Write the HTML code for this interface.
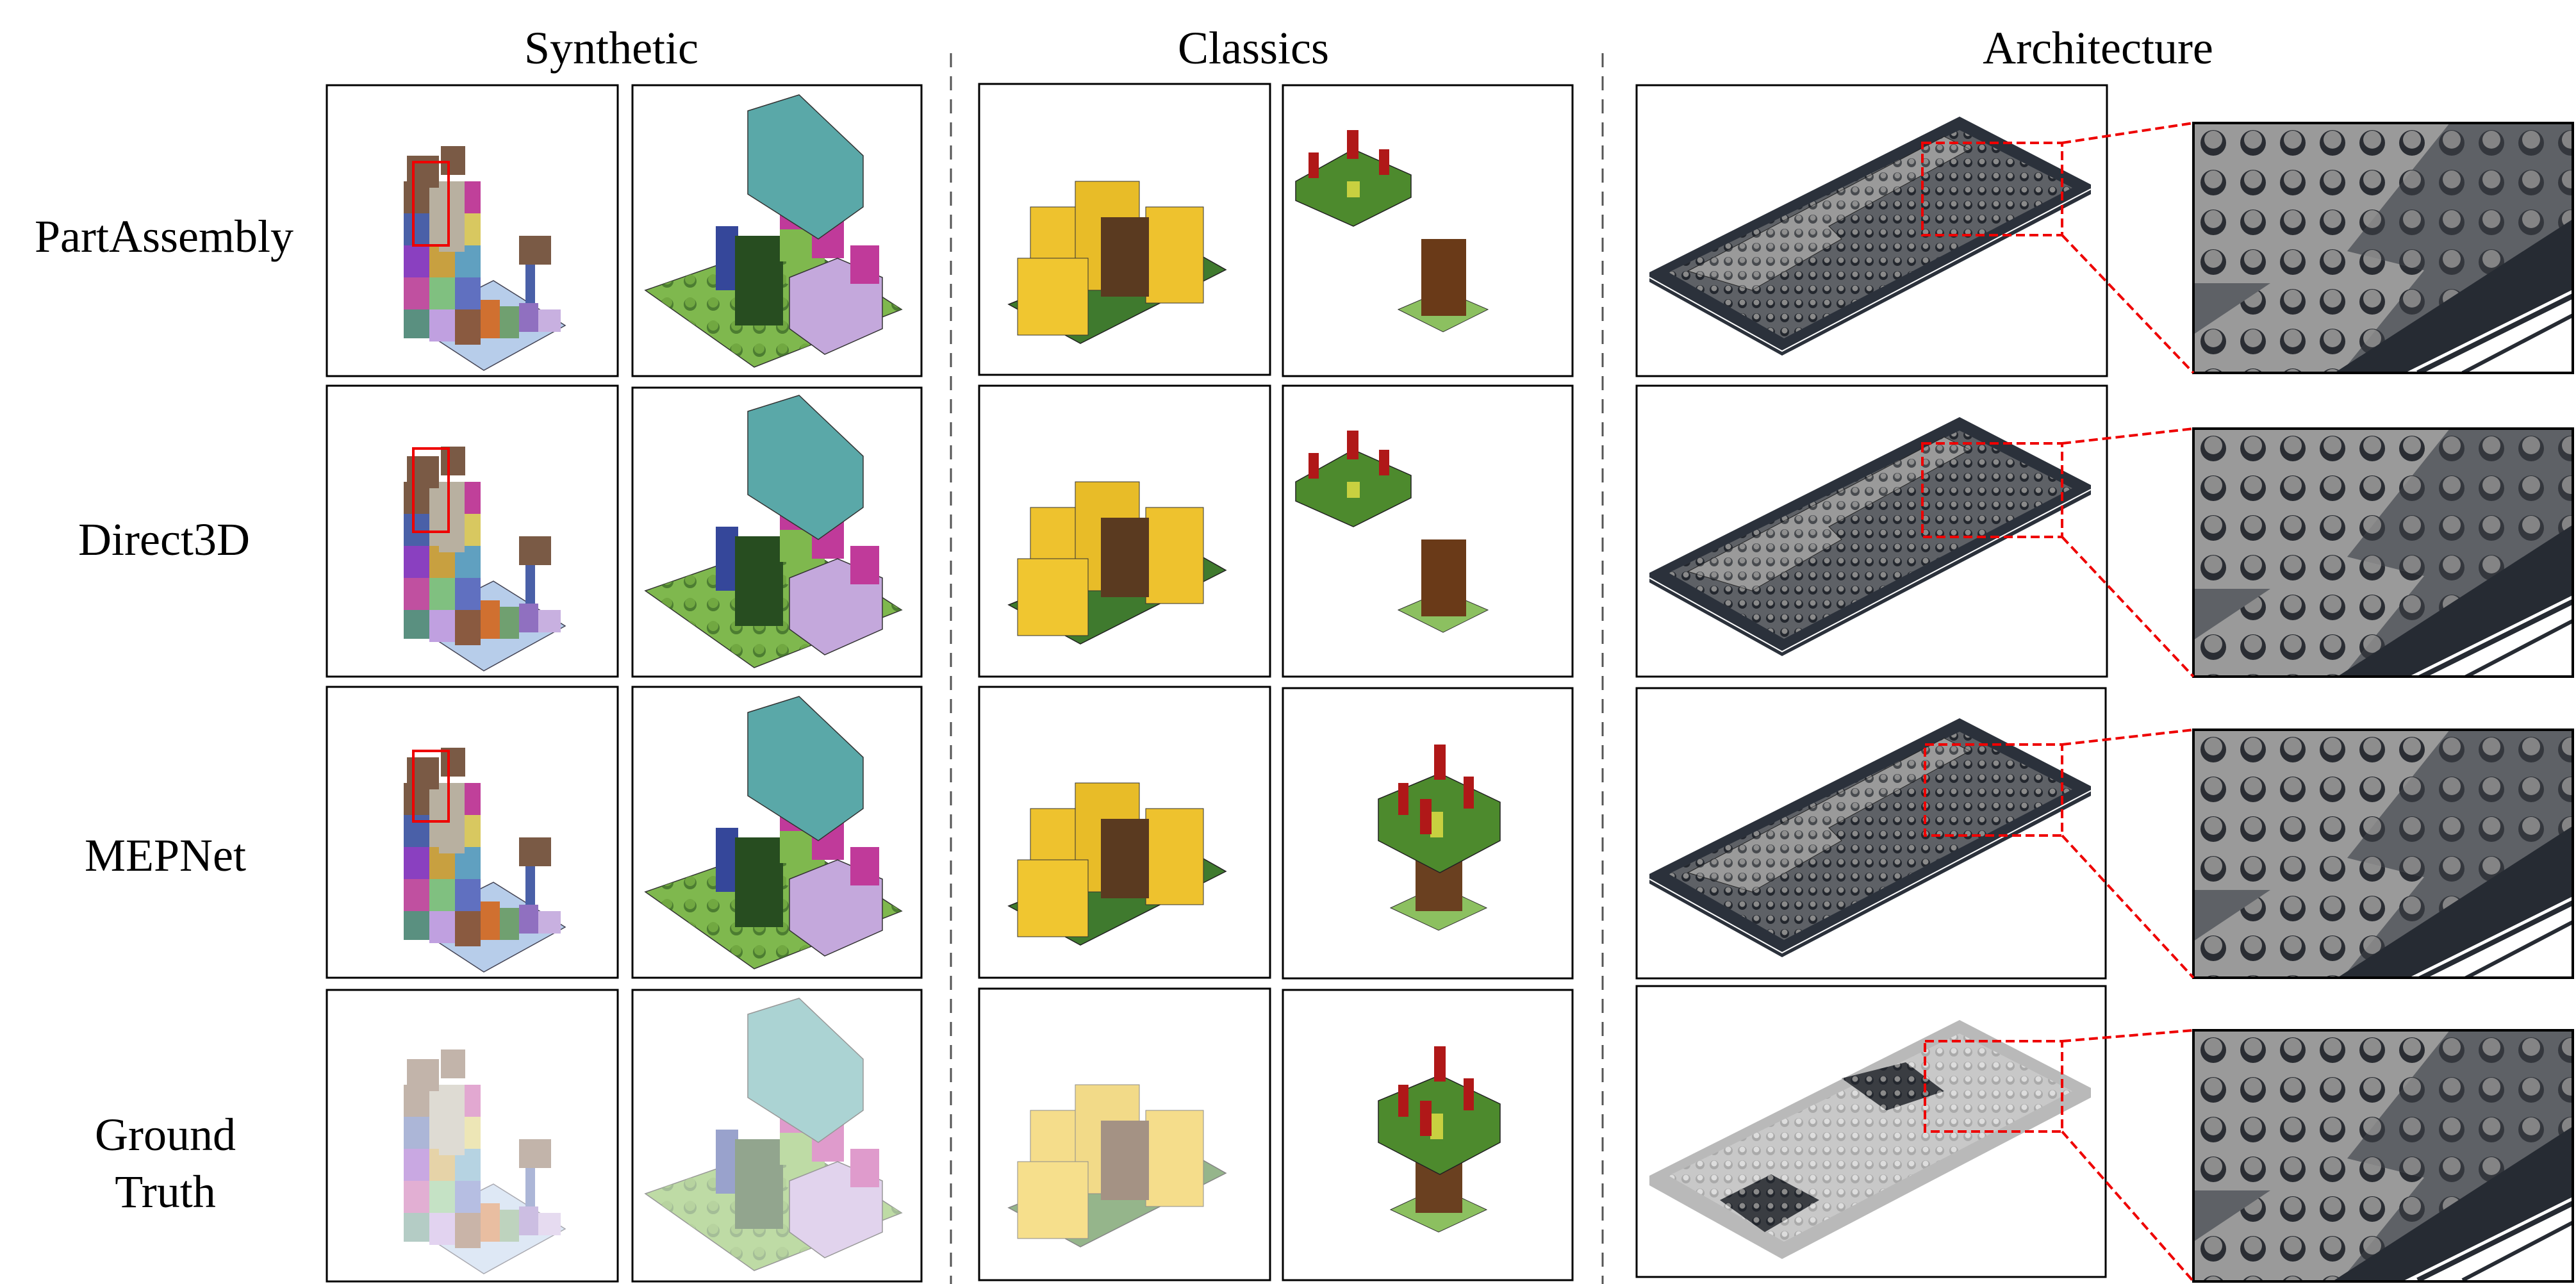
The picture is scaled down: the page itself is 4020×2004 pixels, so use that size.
<!DOCTYPE html>
<html><head><meta charset="utf-8"><style>
html,body{margin:0;padding:0;background:#fff;}
svg{display:block;}
text{font-family:"Liberation Serif",serif;font-size:72px;fill:#000;}
</style></head><body>
<svg width="4020" height="2004" viewBox="0 0 4020 2004" xmlns="http://www.w3.org/2000/svg">
<defs>
<pattern id="stud" width="22" height="22" patternUnits="userSpaceOnUse"><circle cx="11" cy="11" r="7" fill="#23272e"/><circle cx="11" cy="9" r="4.5" fill="#8a8a8a"/></pattern>
<pattern id="studL" width="22" height="22" patternUnits="userSpaceOnUse"><circle cx="11" cy="11" r="7" fill="#aaa"/><circle cx="11" cy="9" r="4.5" fill="#ddd"/></pattern>
<pattern id="bigstud" width="62" height="62" patternUnits="userSpaceOnUse"><circle cx="31" cy="31" r="20" fill="#2a2d33"/><circle cx="31" cy="26" r="14" fill="#8d8d8d"/></pattern>
<pattern id="gstud" width="36" height="36" patternUnits="userSpaceOnUse"><circle cx="18" cy="18" r="10" fill="#3f6e2a"/><circle cx="18" cy="15" r="8" fill="#6da43e"/></pattern>

<g id="tower">
<polygon points="130,370 245,445 372,375 260,305" fill="#b7cdea" stroke="#445" stroke-width="1.5"/>
<rect x="120" y="150" width="40" height="50" fill="#7a5a45"/><rect x="160" y="150" width="40" height="50" fill="#b8b0a0"/><rect x="200" y="150" width="40" height="50" fill="#c0409a"/>
<rect x="120" y="200" width="40" height="50" fill="#4a60a8"/><rect x="160" y="200" width="40" height="50" fill="#b8b0a0"/><rect x="200" y="200" width="40" height="50" fill="#d8c860"/>
<rect x="120" y="250" width="40" height="50" fill="#8a40c0"/><rect x="160" y="250" width="40" height="50" fill="#c8a040"/><rect x="200" y="250" width="40" height="50" fill="#60a0c0"/>
<rect x="120" y="300" width="40" height="50" fill="#c050a0"/><rect x="160" y="300" width="40" height="50" fill="#80c080"/><rect x="200" y="300" width="40" height="50" fill="#6070c0"/>
<rect x="120" y="350" width="40" height="45" fill="#5a9080"/><rect x="160" y="350" width="40" height="50" fill="#c0a0e0"/><rect x="200" y="350" width="40" height="55" fill="#8a5a40"/>
<rect x="240" y="335" width="30" height="60" fill="#d07030"/><rect x="270" y="345" width="30" height="50" fill="#70a070"/><rect x="300" y="340" width="30" height="45" fill="#9070c0"/><rect x="330" y="350" width="35" height="35" fill="#c8b0e0"/>
<rect x="125" y="110" width="50" height="50" fill="#7a5a45"/><rect x="178" y="95" width="38" height="45" fill="#7a5a45"/>
<rect x="175" y="150" width="40" height="110" fill="#b8b0a0"/>
<rect x="300" y="235" width="50" height="45" fill="#7a5a45"/><rect x="310" y="280" width="15" height="60" fill="#4a60a8"/>
</g>
<g id="syn2">
<polygon points="20,320 190,440 420,350 250,240" fill="#7fb84e" stroke="#333" stroke-width="1.5"/>
<polygon points="20,320 190,440 420,350 250,240" fill="url(#gstud)" opacity="0.8"/>
<rect x="130" y="220" width="35" height="100" fill="#35479a"/><rect x="160" y="235" width="75" height="140" fill="#274d20"/>
<rect x="230" y="165" width="50" height="60" fill="#c03a9a"/><rect x="230" y="225" width="50" height="50" fill="#7fb84e"/><rect x="280" y="200" width="50" height="70" fill="#c03a9a"/><rect x="240" y="270" width="60" height="40" fill="#7fb84e"/>
<polygon points="180,40 260,15 360,110 360,190 290,240 180,170" fill="#5aa8a8" stroke="#333" stroke-width="1.5"/>
<polygon points="245,300 320,270 390,300 390,380 300,420 245,380" fill="#c4a8dc" stroke="#333" stroke-width="1.5"/>
<rect x="340" y="250" width="45" height="60" fill="#c03a9a"/>
</g>
<g id="castle">
<polygon points="46,342 158,403 385,288 300,240" fill="#3f7a2e" stroke="#222" stroke-width="1.5"/>
<rect x="80" y="190" width="90" height="180" fill="#eec22e" stroke="#333"/><rect x="150" y="150" width="100" height="170" fill="#e8bc28" stroke="#333"/><rect x="260" y="190" width="90" height="150" fill="#eec22e" stroke="#333"/><rect x="60" y="270" width="110" height="120" fill="#f0c630" stroke="#333"/>
<rect x="190" y="206" width="75" height="124" fill="#5a3a20"/>
</g>
<g id="tree">
<polygon points="168,345 243,310 318,345 243,380" fill="#8cc060" stroke="#333"/>
<rect x="207" y="260" width="73" height="90" fill="#6a4020"/>
<polygon points="149,175 245,135 339,180 339,240 245,290 149,240" fill="#4d8a2d" stroke="#222" stroke-width="1.5"/>
<rect x="230" y="195" width="20" height="40" fill="#c8d040"/>
<rect x="236" y="90" width="18" height="55" fill="#b01818"/><rect x="180" y="150" width="16" height="50" fill="#b01818"/><rect x="282" y="140" width="16" height="50" fill="#b01818"/><rect x="214" y="175" width="18" height="55" fill="#b01818"/>
</g>
<g id="split">
<polygon points="20,150 110,100 200,140 200,175 110,220 20,180" fill="#4d8a2d" stroke="#222" stroke-width="1.5"/>
<rect x="40" y="105" width="16" height="40" fill="#b01818"/><rect x="100" y="70" width="18" height="45" fill="#b01818"/><rect x="150" y="100" width="16" height="40" fill="#b01818"/><rect x="100" y="150" width="20" height="25" fill="#c8d040"/>
<polygon points="180,350 250,320 320,350 250,385" fill="#8cc060" stroke="#333"/>
<rect x="216" y="240" width="70" height="120" fill="#6a3a18"/>
</g>
<g id="arch">
<polygon points="504,49 709,155 709,170 227,422 20,307 20,292" fill="#2b313b"/>
<polygon points="504,70 680,160 230,395 50,292" fill="#5e6166"/>
<polygon points="504,70 680,160 230,395 50,292" fill="url(#stud)"/>
<polygon points="80,290 480,80 520,100 300,220 320,240 180,320" fill="#9a9a9a" stroke="#222"/>
<polygon points="80,290 480,80 520,100 300,220 320,240 180,320" fill="url(#stud)" opacity="0.7"/>
<polyline points="20,300 227,415 709,162" fill="none" stroke="#fff" stroke-width="2"/>
</g>
<g id="archgt">
<polygon points="504,49 709,155 709,170 227,422 20,307 20,292" fill="#a8a8a8" opacity="0.8"/>
<polygon points="504,70 680,160 230,395 50,292" fill="#c8c8c8"/>
<polygon points="504,70 680,160 230,395 50,292" fill="url(#studL)"/>
<polygon points="320,140 420,115 480,160 390,190" fill="#3a3d42"/><polygon points="320,140 420,115 480,160 390,190" fill="url(#stud)"/>
<polygon points="130,330 210,290 285,330 200,380" fill="#3a3d42"/><polygon points="130,330 210,290 285,330 200,380" fill="url(#stud)"/>
</g>
<g id="zoomc">
<rect x="0" y="0" width="592" height="390" fill="#5e6166"/>
<rect x="0" y="0" width="592" height="390" fill="url(#bigstud)" opacity="0.8"/>
<polygon points="0,0 400,0 240,200 360,230 230,390 0,390" fill="#9a9a9a"/>
<polygon points="0,0 400,0 240,200 360,230 230,390 0,390" fill="url(#bigstud)"/>
<polygon points="0,250 120,250 0,330" fill="#5e6166"/>
<polygon points="592,150 592,260 330,390 220,390" fill="#262b33"/>
<polygon points="592,260 592,390 330,390" fill="#fff"/>
<line x1="592" y1="270" x2="350" y2="390" stroke="#262b33" stroke-width="8"/>
<line x1="592" y1="300" x2="420" y2="390" stroke="#262b33" stroke-width="6"/>
</g>
</defs>

<text x="954" y="99" text-anchor="middle">Synthetic</text>
<text x="1956" y="99" text-anchor="middle">Classics</text>
<text x="3274" y="99" text-anchor="middle">Architecture</text>
<text x="256" y="393" text-anchor="middle">PartAssembly</text>
<text x="256" y="866" text-anchor="middle">Direct3D</text>
<text x="258" y="1359" text-anchor="middle">MEPNet</text>
<text x="258" y="1795" text-anchor="middle">Ground</text>
<text x="258" y="1884" text-anchor="middle">Truth</text>

<line x1="1484" y1="83" x2="1484" y2="2004" stroke="#555" stroke-width="3" stroke-dasharray="22,14"/>
<line x1="2501" y1="83" x2="2501" y2="2004" stroke="#555" stroke-width="3" stroke-dasharray="22,14"/>

<!-- content -->
<use href="#tower" transform="translate(510,133)"/><use href="#tower" transform="translate(510,602)"/><use href="#tower" transform="translate(510,1072)"/>
<g opacity="0.45"><use href="#tower" transform="translate(510,1543)"/></g>
<rect x="645" y="253" width="55" height="130" fill="none" stroke="#e00" stroke-width="4"/>
<rect x="645" y="700" width="55" height="130" fill="none" stroke="#e00" stroke-width="4"/>
<rect x="645" y="1172" width="55" height="110" fill="none" stroke="#e00" stroke-width="4"/>
<use href="#syn2" transform="translate(987,133)"/><use href="#syn2" transform="translate(987,602)"/><use href="#syn2" transform="translate(987,1072)"/>
<g opacity="0.5"><use href="#syn2" transform="translate(987,1543)"/></g>
<use href="#castle" transform="translate(1528,133)"/><use href="#castle" transform="translate(1528,602)"/><use href="#castle" transform="translate(1528,1072)"/>
<g opacity="0.55"><use href="#castle" transform="translate(1528,1543)"/></g>
<use href="#split" transform="translate(2002,133)"/><use href="#split" transform="translate(2002,602)"/>
<use href="#tree" transform="translate(2002,1072)"/><use href="#tree" transform="translate(2002,1543)"/>
<use href="#arch" transform="translate(2554,133)"/><use href="#arch" transform="translate(2554,602)"/><use href="#arch" transform="translate(2554,1072)"/>
<use href="#archgt" transform="translate(2554,1543)"/>
<svg x="3423" y="192" width="592" height="390" overflow="hidden"><use href="#zoomc"/></svg>
<svg x="3423" y="669" width="592" height="387" overflow="hidden"><use href="#zoomc"/></svg>
<svg x="3423" y="1139" width="592" height="387" overflow="hidden"><use href="#zoomc"/></svg>
<svg x="3423" y="1608" width="592" height="392" overflow="hidden"><use href="#zoomc"/></svg>

<!-- frames -->
<g fill="none" stroke="#000" stroke-width="3">
<rect x="510" y="133" width="454" height="454"/><rect x="987" y="133" width="451" height="454"/><rect x="1528" y="131" width="454" height="454"/><rect x="2002" y="133" width="452" height="454"/><rect x="2554" y="133" width="734" height="454"/>
<rect x="510" y="602" width="454" height="454"/><rect x="987" y="605" width="451" height="451"/><rect x="1528" y="602" width="454" height="454"/><rect x="2002" y="602" width="452" height="454"/><rect x="2554" y="602" width="734" height="454"/>
<rect x="510" y="1072" width="454" height="454"/><rect x="987" y="1072" width="451" height="454"/><rect x="1528" y="1072" width="454" height="454"/><rect x="2002" y="1074" width="452" height="453"/><rect x="2554" y="1074" width="732" height="453"/>
<rect x="510" y="1545" width="454" height="455"/><rect x="987" y="1545" width="451" height="455"/><rect x="1528" y="1543" width="454" height="455"/><rect x="2002" y="1545" width="452" height="453"/><rect x="2554" y="1539" width="732" height="454"/>
<rect x="3423" y="192" width="592" height="390" stroke-width="4"/><rect x="3423" y="669" width="592" height="387" stroke-width="4"/><rect x="3423" y="1139" width="592" height="387" stroke-width="4"/><rect x="3423" y="1608" width="592" height="392" stroke-width="4"/>
</g>
<g fill="none" stroke="#e00" stroke-width="4" stroke-dasharray="14,7">
<rect x="3000" y="223" width="218" height="144"/><path d="M3218 223 L3423 192 M3218 367 L3423 582"/>
<rect x="3000" y="692" width="218" height="146"/><path d="M3218 692 L3423 669 M3218 838 L3423 1056"/>
<rect x="3004" y="1162" width="214" height="142"/><path d="M3218 1162 L3423 1139 M3218 1304 L3423 1526"/>
<rect x="3004" y="1625" width="214" height="141"/><path d="M3218 1625 L3423 1608 M3218 1766 L3423 2000"/>
</g>
</svg>
</body></html>
